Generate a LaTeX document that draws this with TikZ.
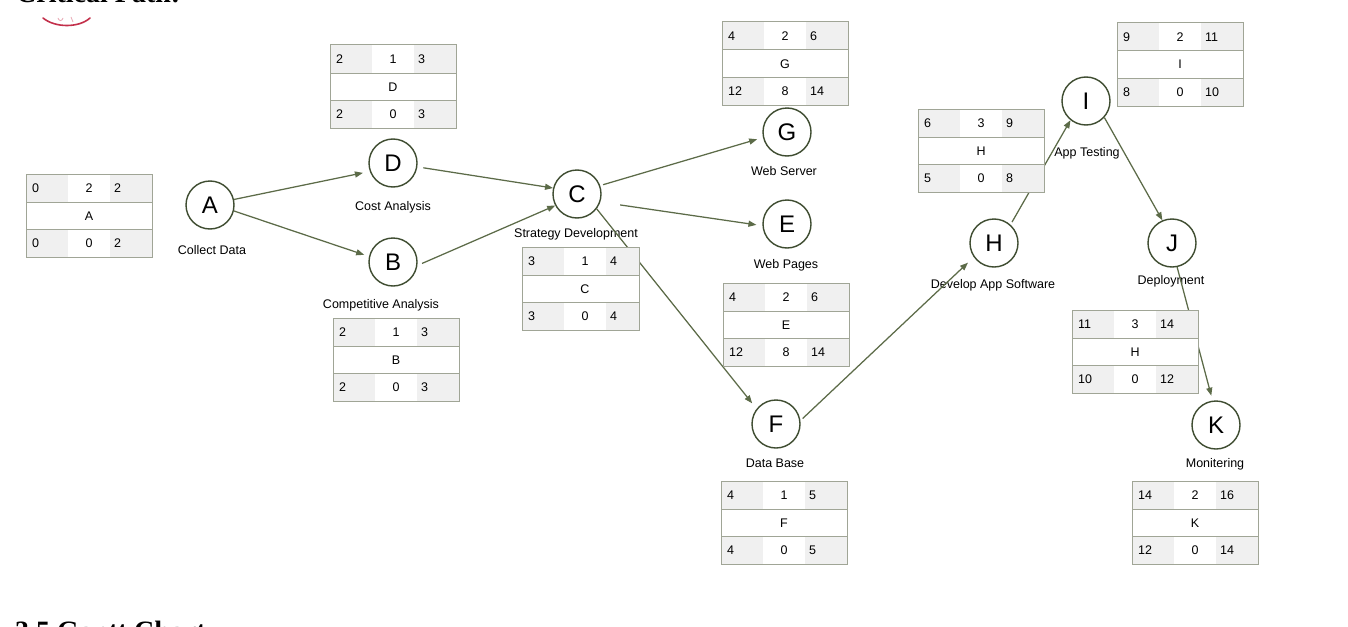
\documentclass[tikz,border=0pt]{standalone}
\usepackage{fontspec}
\setmainfont{Liberation Sans}
\newfontfamily\headserif{Liberation Serif}
\usetikzlibrary{arrows.meta}
\definecolor{linecol}{HTML}{5C6B48}
\definecolor{circcol}{HTML}{3E4C30}
\definecolor{cellgray}{HTML}{F0F0F0}
\definecolor{tabline}{HTML}{A0A596}
\definecolor{tabdark}{HTML}{5F6E4C}
\definecolor{logored}{HTML}{C3304B}
\definecolor{logopink}{HTML}{E8A8B4}
\tikzset{
  ev/.style={circle, draw=circcol, fill=white, line width=1.4pt, minimum size=48pt, inner sep=0pt, font=\fontsize{24}{24}\selectfont},
  lbl/.style={anchor=base, inner sep=0pt, font=\fontsize{12.5}{13}\selectfont},
  conn/.style={draw=linecol, line width=1.25pt, -{Triangle[length=8pt,width=6pt]}},
  tabtxt/.style={inner sep=0pt, font=\fontsize{12.5}{13}\selectfont},
  tabrule/.style={draw=tabline, line width=1pt},
  heading/.style={anchor=base west, inner sep=0pt, font=\headserif\bfseries\fontsize{28}{30}\selectfont}
}
\newcommand{\tabwd}{126}
\newcommand{\cpmtab}[9]{%
  \begin{scope}[shift={(#1,#2)}]
    \fill[white] (0,0) rectangle (\tabwd,83);
    \fill[cellgray] (0,0) rectangle (42,28);
    \fill[cellgray] (84,0) rectangle (\tabwd,28);
    \fill[cellgray] (0,55) rectangle (42,83);
    \fill[cellgray] (84,55) rectangle (\tabwd,83);
    \draw[tabrule] (0,28) -- (\tabwd,28);
    \draw[tabrule] (0,55) -- (\tabwd,55);
    \draw[tabrule] (0,0) rectangle (\tabwd,83);
    \node[tabtxt, anchor=base west] (t#1a) at (6,18.5) {#3};
    \node[tabtxt, anchor=base] (t#1b) at (63,18.5) {#4};
    \node[tabtxt, anchor=base west] (t#1c) at (88,18.5) {#5};
    \node[tabtxt, anchor=base] (t#1m) at (63,46) {#6};
    \node[tabtxt, anchor=base west] (t#1d) at (6,73.5) {#7};
    \node[tabtxt, anchor=base] (t#1e) at (63,73.5) {#8};
    \node[tabtxt, anchor=base west] (t#1f) at (88,73.5) {#9};
  \end{scope}}
\begin{document}
\begin{tikzpicture}[x=1pt, y=-1pt]
\useasboundingbox (0,0) rectangle (1348,626);
\clip (0,0) rectangle (1348,626);
\fill[white] (0,0) rectangle (1348,626);

% page fragments
\node[heading] (hcp) at (16,3) {Critical Path:};
\node[heading] (hgc) at (15,640) {3.5 Gantt Chart};
\draw[logored, line width=1.6pt, line cap=round] (43,18) .. controls (55,28) and (79,28) .. (90,18);
\draw[logopink, line width=0.8pt] (58,18) .. controls (59,21.5) and (62,21.5) .. (63,18);
\draw[logopink, line width=0.8pt] (71,17) -- (73,22);

% events
\node[ev] (A) at (210,205) {A};
\node[ev] (D) at (393,163) {D};
\node[ev] (B) at (393,262) {B};
\node[ev] (C) at (577,194) {C};
\node[ev] (G) at (787,132) {G};
\node[ev] (E) at (787,224) {E};
\node[ev] (F) at (776,424) {F};
\node[ev] (H) at (994,243) {H};
\node[ev] (I) at (1086,101) {I};
\node[ev] (J) at (1172,243) {J};
\node[ev] (K) at (1216,425) {K};

% labels
\node[lbl] (lA) at (212,254) {Collect Data};
\node[lbl] (lD) at (393,210.5) {Cost Analysis};
\node[lbl] (lB) at (381,308.5) {Competitive Analysis};
\node[lbl] (lC) at (576,237) {Strategy Development};
\node[lbl] (lG) at (784,175) {Web Server};
\node[lbl] (lE) at (786,268) {Web Pages};
\node[lbl] (lF) at (775,467) {Data Base};
\node[lbl] (lH) at (993,288) {Develop App Software};
\node[lbl] (lI) at (1087,156) {App Testing};
\node[lbl] (lJ) at (1171,284) {Deployment};
\node[lbl] (lK) at (1215,467) {Monitering};

% connectors
\draw[conn, shorten >=7pt] (A.13) -- (D.200);
\draw[conn, shorten >=5pt] (A.-14) -- (B.167);
\draw[conn, shorten <=6pt] (D.-9) -- (C.166);
\draw[conn, shorten <=5pt] (B.-8) -- (C.208);
\draw[conn, shorten <=3pt, shorten >=6pt] (C.20) -- (G.193);
\draw[conn, shorten <=20pt, shorten >=6pt] (C.-19) -- (E.184);
\draw[conn, shorten >=7pt] (C.-37) -- (F.142);
\draw[conn, shorten <=3pt, shorten >=8pt] (F.8) -- (H.215);
\draw[conn, shorten <=3pt] (H.48) -- (I.231);
\draw[conn] (I.-42) -- (J.113);
\draw[conn, shorten >=5pt] (J.-78) -- (K.98);

% tables
\cpmtab{26}{174}{0}{2}{2}{A}{0}{0}{2}
\cpmtab{330}{45}{2}{1}{3}{D}{2}{0}{3}
\cpmtab{333}{318}{2}{1}{3}{B}{2}{0}{3}
\renewcommand{\tabwd}{117}
\cpmtab{522}{247}{3}{1}{4}{C}{3}{0}{4}
\renewcommand{\tabwd}{126}
\cpmtab{722}{22}{4}{2}{6}{G}{12}{8}{14}
\cpmtab{723}{283}{4}{2}{6}{E}{12}{8}{14}
\cpmtab{721}{481}{4}{1}{5}{F}{4}{0}{5}
\cpmtab{918}{109}{6}{3}{9}{H}{5}{0}{8}
\cpmtab{1117}{23}{9}{2}{11}{I}{8}{0}{10}
\cpmtab{1072}{310}{11}{3}{14}{H}{10}{0}{12}
\cpmtab{1132}{481}{14}{2}{16}{K}{12}{0}{14}
\end{tikzpicture}
\end{document}
